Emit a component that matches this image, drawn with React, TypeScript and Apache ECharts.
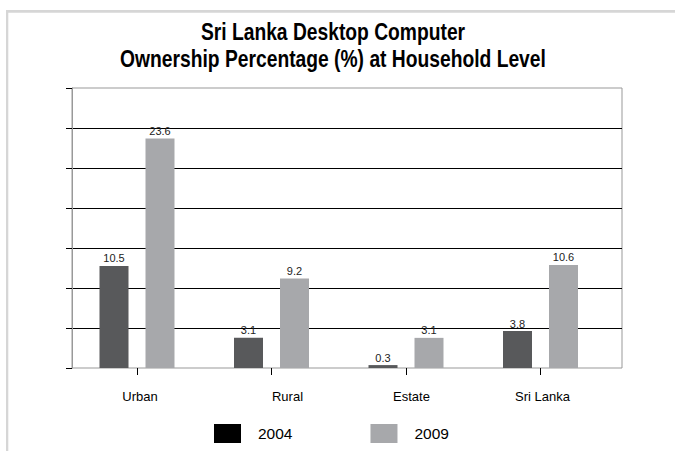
import React, { useEffect, useRef } from "react";
import * as echarts from "echarts";

const categories = ["Urban", "Rural", "Estate", "Sri Lanka"];
const values2004 = [10.5, 3.1, 0.3, 3.8];
const values2009 = [23.6, 9.2, 3.1, 10.6];
const seriesNames = ["2004", "2009"];
const titleLines = ["Sri Lanka Desktop Computer", "Ownership Percentage (%) at Household Level"];

const FONT = "'Liberation Sans', Arial, sans-serif";

export default function App() {
  const ref = useRef<HTMLDivElement>(null);
  useEffect(() => {
    document.body.style.margin = "0";
    const chart = echarts.init(ref.current!, undefined, { renderer: "svg" });
    const labelCfg = {
      show: true,
      position: "top",
      distance: 2,
      fontFamily: FONT,
      fontSize: 11,
      color: "#222",
    };
    const titleText = (text: string, y: number) => ({
      type: "text",
      x: 333,
      y,
      scaleX: 0.82,
      silent: true,
      style: {
        text,
        x: 0,
        y: 0,
        align: "center",
        verticalAlign: "middle",
        fontFamily: FONT,
        fontWeight: "bold",
        fontSize: 23.5,
        fill: "#000",
      },
    });
    // label shifts (rich padding) so each category name sits where the original placed it
    const labelStyleKeys = ["a", "b", "c", "d"];
    const labelPads = [6, 32, 11, 4];
    const rich: Record<string, any> = {};
    labelStyleKeys.forEach((k, i) => {
      rich[k] = { fontFamily: FONT, fontSize: 13, color: "#000", padding: [0, 0, 0, labelPads[i]] };
    });
    chart.setOption({
      animation: false,
      backgroundColor: "#fff",
      legend: {
        left: 214,
        top: 424,
        padding: 0,
        itemWidth: 27,
        itemHeight: 19,
        itemGap: 78,
        icon: "rect",
        textStyle: { fontFamily: FONT, fontSize: 15.5, color: "#000", padding: [0, 0, 0, 12] },
        data: [
          { name: seriesNames[0], itemStyle: { color: "#000" } },
          { name: seriesNames[1], itemStyle: { color: "#a7a8ab" } },
        ],
      },
      graphic: [
        { type: "rect", shape: { x: 6, y: 10, width: 669, height: 2.7 }, style: { fill: "#d6d6d6" }, silent: true },
        { type: "rect", shape: { x: 6, y: 10, width: 2.3, height: 441 }, style: { fill: "#d6d6d6" }, silent: true },
        titleText(titleLines[0], 32),
        titleText(titleLines[1], 59),
      ],
      grid: [
        { left: 72, right: 53, top: 88, bottom: 83, show: true, borderColor: "#999", borderWidth: 1, backgroundColor: "transparent" },
        { left: 69.75, width: 538, top: 88, bottom: 83 },
      ],
      xAxis: [
        { gridIndex: 0, type: "value", min: 0, max: 1, show: false },
        {
          gridIndex: 1,
          type: "category",
          data: categories,
          axisLine: { show: false },
          axisTick: { show: true, alignWithLabel: true, length: 7, lineStyle: { color: "#000" } },
          axisLabel: {
            fontFamily: FONT,
            fontSize: 13,
            color: "#000",
            margin: 22,
            formatter: (v: string, i: number) => `{${labelStyleKeys[i]}|${v}}`,
            rich,
          },
        },
      ],
      yAxis: [
        {
          gridIndex: 0,
          type: "value",
          min: 0,
          max: 28,
          interval: 4,
          axisLine: { show: true, lineStyle: { color: "#999" } },
          axisTick: { show: true, length: 6, lineStyle: { color: "#000" } },
          axisLabel: { show: false },
          splitLine: { show: true, showMinLine: false, showMaxLine: false, lineStyle: { color: "#000", width: 1 } },
        },
        { gridIndex: 1, type: "value", min: 0, max: 28.8, show: false, splitLine: { show: false } },
      ],
      series: [
        {
          name: seriesNames[0],
          type: "bar",
          xAxisIndex: 1,
          yAxisIndex: 1,
          data: values2004,
          barWidth: 29,
          barGap: "58.6%",
          itemStyle: { color: "#58595b" },
          label: labelCfg,
        },
        {
          name: seriesNames[1],
          type: "bar",
          xAxisIndex: 1,
          yAxisIndex: 1,
          data: values2009,
          barWidth: 29,
          barGap: "58.6%",
          itemStyle: { color: "#a7a8ab" },
          label: labelCfg,
        },
      ],
    });
    return () => chart.dispose();
  }, []);
  return <div ref={ref} style={{ width: 675, height: 451 }} />;
}
